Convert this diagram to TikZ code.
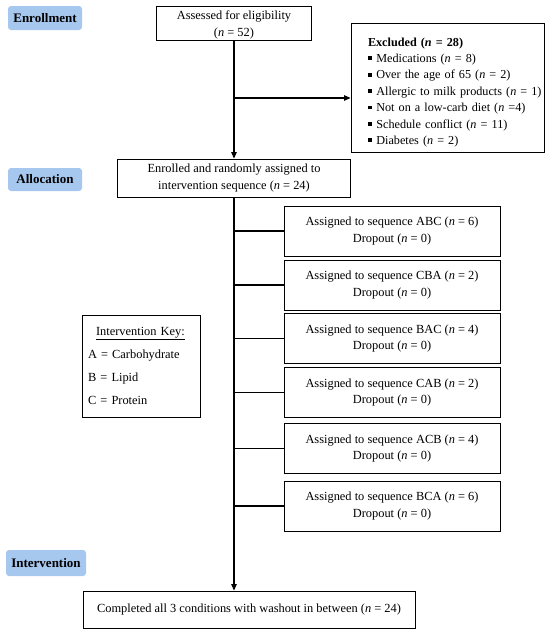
\documentclass[tikz,border=0pt]{standalone}
\usepackage{fontspec}
\setmainfont{Liberation Serif}
\usetikzlibrary{arrows.meta}
\definecolor{labelblue}{RGB}{166,199,238}
\newcommand{\nn}{\textit{n}}
\newcommand{\sqb}{\rule[2.2pt]{3.8pt}{3.8pt}\hspace{4.5pt}}
\tikzset{
  stagelabel/.style={fill=labelblue, rounded corners=3pt, inner sep=0pt, font=\bfseries\fontsize{13}{15}\selectfont, anchor=center},
  flowbox/.style={draw, line width=0.9pt, inner sep=0pt, align=center, font=\fontsize{12.4}{16.5}\selectfont},
  seqbox/.style={flowbox, minimum width=216pt, minimum height=50pt},
  conn/.style={line width=1.1pt},
  arr/.style={conn, -{Triangle[length=6.5pt,width=5.5pt]}}
}
\begin{document}
\begin{tikzpicture}[x=1pt,y=-1pt]
\useasboundingbox (0,0) rectangle (550,629);
% stage labels
\node[stagelabel, minimum width=74pt, minimum height=24pt] (enr) at (45,18) {Enrollment};
\node[stagelabel, minimum width=74pt, minimum height=23pt] (alloc) at (45,179.5) {Allocation};
\node[stagelabel, minimum width=80pt, minimum height=26pt] (interv) at (46,563) {Intervention};
% main boxes
\node[flowbox, minimum width=155pt, minimum height=34pt] (assess) at (234,23) {\rule{0pt}{13pt}Assessed for eligibility\\(\nn{} = 52)};
\node[flowbox, minimum width=193pt, minimum height=129pt, align=left, text width=159pt, font=\fontsize{12.2}{16.4}\selectfont] (excl) at (447.5,87.5)
  {\mbox{\rule{0pt}{18pt}\textbf{Excluded (\textit{\textbf{n}} = 28)}}\\
   \mbox{\sqb Medications (\nn{} = 8)}\\
   \mbox{\sqb Over the age of 65 (\nn{} = 2)}\\
   \mbox{\sqb Allergic to milk products (\nn{} = 1)}\\
   \mbox{\sqb Not on a low-carb diet (\nn{} =4)}\\
   \mbox{\sqb Schedule conflict (\nn{} = 11)}\\
   \mbox{\sqb Diabetes (\nn{} = 2)}};
\node[flowbox, minimum width=233pt, minimum height=38pt] (enrolled) at (234,178) {Enrolled and randomly assigned to\\intervention sequence (\nn{} = 24)};
% sequence boxes
\node[seqbox] (s1) at (392,231) {Assigned to sequence ABC (\nn{} = 6)\\Dropout (\nn{} = 0)};
\node[seqbox] (s2) at (392,285) {Assigned to sequence CBA (\nn{} = 2)\\Dropout (\nn{} = 0)};
\node[seqbox] (s3) at (392,338.5) {Assigned to sequence BAC (\nn{} = 4)\\Dropout (\nn{} = 0)};
\node[seqbox] (s4) at (392,392.5) {Assigned to sequence CAB (\nn{} = 2)\\Dropout (\nn{} = 0)};
\node[seqbox] (s5) at (392,448.5) {Assigned to sequence ACB (\nn{} = 4)\\Dropout (\nn{} = 0)};
\node[seqbox] (s6) at (392,506) {Assigned to sequence BCA (\nn{} = 6)\\Dropout (\nn{} = 0)};
% key
\node[flowbox, minimum width=118pt, minimum height=102pt, align=left, text width=106pt, font=\fontsize{12.4}{23}\selectfont] (key) at (141,366)
  {\hspace*{8pt}\underline{Intervention Key:}\\
   A = Carbohydrate\\
   B = Lipid\\
   C = Protein};
% final box
\node[flowbox, minimum width=332pt, minimum height=37pt] (done) at (249,609.5) {Completed all 3 conditions with washout in between (\nn{} = 24)};
% connectors
\draw[arr] (assess.south) -- (enrolled.north);
\coordinate (j1) at (234,98);
\draw[arr] (j1) -- (j1 -| excl.west);
\draw[arr] (enrolled.south) -- (enrolled.south |- done.north);
\foreach \s in {s1,s2,s3,s4,s5,s6}{
  \draw[conn] (\s.west -| enrolled.south) -- (\s.west);
}
\end{tikzpicture}
\end{document}
